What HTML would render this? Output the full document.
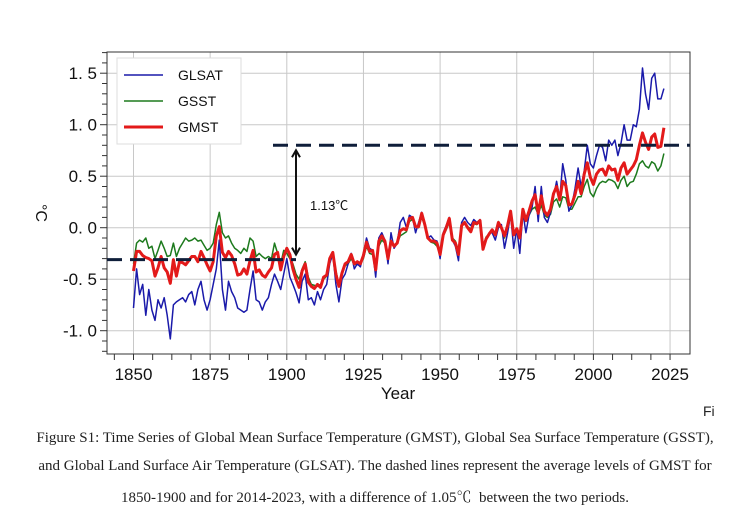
<!DOCTYPE html>
<html><head><meta charset="utf-8"><style>
body{margin:0;background:#fff;width:750px;height:530px;overflow:hidden;font-family:"Liberation Sans",sans-serif}
.cap{position:absolute;left:0;width:750px;text-align:center;font-family:"Liberation Serif","Noto Serif CJK SC",serif;font-size:15px;color:#222;white-space:nowrap}
</style></head><body>
<svg id="chart" width="750" height="420" style="position:absolute;left:0;top:0" font-family="Liberation Sans, sans-serif"></svg>
<div class="cap" style="left:703px;width:20px;top:403px;text-align:left;font-family:'Liberation Sans',sans-serif;font-size:14px">Fi</div>
<div class="cap" style="top:430px">Figure S1: Time Series of Global Mean Surface Temperature (GMST), Global Sea Surface Temperature (GSST),</div>
<div class="cap" style="top:458px">and Global Land Surface Air Temperature (GLSAT). The dashed lines represent the average levels of GMST for</div>
<div class="cap" style="top:486px">1850-1900 and for 2014-2023, with a difference of 1.05℃&nbsp; between the two periods.</div>
<script>
const startYear = 1850;
const xTicks = [1850,1875,1900,1925,1950,1975,2000,2025];
const yTicks = [1.5,1.0,0.5,0.0,-0.5,-1.0];
const yTickLabels = ["1. 5","1. 0","0. 5","0. 0","-0. 5","-1. 0"];
const gmst = [-0.42,-0.23,-0.23,-0.27,-0.29,-0.30,-0.32,-0.47,-0.39,-0.28,
-0.39,-0.43,-0.54,-0.31,-0.47,-0.33,-0.34,-0.36,-0.32,-0.28,
-0.28,-0.33,-0.23,-0.29,-0.36,-0.42,-0.33,-0.08,0.01,-0.24,
-0.29,-0.23,-0.27,-0.35,-0.46,-0.45,-0.40,-0.45,-0.32,-0.22,
-0.43,-0.41,-0.46,-0.48,-0.43,-0.39,-0.26,-0.24,-0.41,-0.28,
-0.20,-0.26,-0.40,-0.50,-0.58,-0.42,-0.35,-0.53,-0.57,-0.59,
-0.55,-0.58,-0.48,-0.46,-0.30,-0.24,-0.45,-0.57,-0.44,-0.35,
-0.33,-0.26,-0.35,-0.33,-0.35,-0.27,-0.14,-0.23,-0.22,-0.41,
-0.13,-0.08,-0.13,-0.30,-0.13,-0.18,-0.15,-0.03,-0.01,-0.02,
0.09,0.10,0.01,0.01,0.14,0.03,-0.10,-0.13,-0.13,-0.15,
-0.26,-0.07,0.00,0.09,-0.12,-0.15,-0.26,0.02,0.05,0.00,
-0.04,0.05,0.04,0.07,-0.21,-0.11,-0.06,-0.02,-0.07,0.05,
0.00,-0.08,0.02,0.16,-0.07,-0.01,-0.10,0.18,0.07,0.16,
0.26,0.32,0.14,0.31,0.16,0.12,0.18,0.33,0.40,0.27,
0.45,0.41,0.22,0.23,0.32,0.45,0.33,0.52,0.63,0.49,
0.42,0.52,0.56,0.57,0.51,0.60,0.56,0.57,0.46,0.58,
0.63,0.52,0.56,0.60,0.66,0.80,0.92,0.83,0.76,0.88,
0.91,0.78,0.79,0.97];
const gsst = [-0.35,-0.15,-0.12,-0.14,-0.10,-0.20,-0.18,-0.30,-0.22,-0.13,
-0.20,-0.28,-0.27,-0.15,-0.28,-0.20,-0.15,-0.10,-0.13,-0.12,
-0.10,-0.13,-0.12,-0.17,-0.22,-0.20,-0.15,0.03,0.15,-0.05,
-0.10,-0.08,-0.15,-0.20,-0.22,-0.25,-0.20,-0.23,-0.10,-0.13,
-0.28,-0.25,-0.28,-0.30,-0.28,-0.30,-0.15,-0.25,-0.35,-0.22,
-0.25,-0.30,-0.35,-0.45,-0.50,-0.40,-0.33,-0.48,-0.55,-0.56,
-0.57,-0.55,-0.50,-0.47,-0.33,-0.27,-0.42,-0.55,-0.45,-0.37,
-0.35,-0.30,-0.36,-0.35,-0.35,-0.30,-0.18,-0.25,-0.26,-0.35,
-0.18,-0.12,-0.15,-0.27,-0.15,-0.18,-0.15,-0.08,-0.06,-0.04,
0.06,0.08,0.02,0.00,0.10,0.02,-0.08,-0.14,-0.15,-0.18,
-0.24,-0.08,-0.02,0.05,-0.10,-0.13,-0.22,0.03,0.06,0.01,
-0.01,0.04,0.03,0.06,-0.18,-0.09,-0.06,-0.03,-0.07,0.06,
0.00,-0.10,0.02,0.12,-0.05,-0.03,-0.08,0.14,0.06,0.12,
0.18,0.20,0.13,0.22,0.12,0.10,0.13,0.25,0.28,0.20,
0.30,0.29,0.18,0.18,0.24,0.30,0.30,0.40,0.47,0.34,
0.30,0.38,0.43,0.45,0.44,0.47,0.46,0.44,0.38,0.46,
0.50,0.40,0.44,0.45,0.52,0.62,0.65,0.60,0.58,0.64,
0.62,0.55,0.60,0.72];
const glsat = [-0.78,-0.40,-0.65,-0.55,-0.85,-0.60,-0.80,-0.90,-0.70,-0.78,
-0.68,-0.85,-1.08,-0.75,-0.72,-0.70,-0.68,-0.72,-0.65,-0.62,
-0.75,-0.60,-0.52,-0.70,-0.80,-0.70,-0.55,-0.40,-0.12,-0.60,
-0.80,-0.52,-0.62,-0.68,-0.78,-0.80,-0.82,-0.80,-0.60,-0.42,
-0.70,-0.72,-0.80,-0.72,-0.68,-0.55,-0.45,-0.52,-0.60,-0.45,
-0.30,-0.48,-0.55,-0.63,-0.73,-0.52,-0.45,-0.70,-0.68,-0.75,
-0.62,-0.70,-0.60,-0.55,-0.35,-0.25,-0.55,-0.72,-0.50,-0.45,
-0.35,-0.25,-0.40,-0.35,-0.38,-0.25,-0.10,-0.20,-0.22,-0.48,
-0.10,-0.05,-0.12,-0.35,-0.05,-0.20,-0.15,0.05,0.10,0.00,
0.12,0.10,-0.05,0.05,0.15,0.05,-0.10,-0.08,-0.12,-0.13,
-0.30,-0.05,0.02,0.10,-0.12,-0.18,-0.32,0.05,0.10,0.05,
0.02,0.08,0.05,0.08,-0.20,-0.12,-0.05,-0.05,-0.12,0.00,
0.03,-0.20,-0.05,0.13,-0.20,-0.01,-0.25,0.15,-0.05,0.12,
0.20,0.40,0.06,0.40,0.10,0.05,0.15,0.30,0.45,0.28,
0.62,0.46,0.16,0.22,0.38,0.58,0.40,0.55,0.80,0.62,
0.58,0.70,0.80,0.78,0.65,0.85,0.80,0.85,0.70,0.82,
1.00,0.85,0.85,1.00,0.98,1.15,1.55,1.30,1.15,1.45,
1.50,1.25,1.25,1.35];
const baseMean = -0.31, recentMean = 0.80;
const arrowLabel = "1.13℃";

const NS="http://www.w3.org/2000/svg";
const svg=document.getElementById('chart');
const L=107,R=690,T=52,B=354;
const X=yr=>133.5+(yr-1850)*3.066;
const Y=v=>227.7-v*103;
function mk(t,a,p){const e=document.createElementNS(NS,t);for(const k in a)e.setAttribute(k,a[k]);(p||svg).appendChild(e);return e;}
yTicks.forEach(v=>{const g=mk('line',{x1:L,x2:R,y1:Y(v),y2:Y(v),stroke:'#c8c8c8','stroke-width':1});

});
xTicks.forEach(v=>{const g=mk('line',{x1:X(v),x2:X(v),y1:T,y2:B,stroke:'#c8c8c8','stroke-width':1});

});
const frame=mk('rect',{x:L,y:T,width:R-L,height:B-T,fill:'none',stroke:'#333','stroke-width':1});


for(let v=-1.2;v<=1.71;v+=0.1){const maj=Math.abs(Math.round(v*2)-v*2)<0.01;
const t=mk('line',{x1:L-(maj?7:5),x2:L,y1:Y(v),y2:Y(v),stroke:'#333','stroke-width':1});

}
yTicks.forEach((v,i)=>{const t=mk('text',{x:97,y:Y(v)+6,'text-anchor':'end','font-size':17,fill:'#111'});
t.textContent=yTickLabels[i];

});
for(let yr=1843.75;yr<=2031;yr+=6.25){if(X(yr)<L||X(yr)>R+1)continue;
const t=mk('line',{x1:X(yr),x2:X(yr),y1:B,y2:B+6,stroke:'#333','stroke-width':1});

}
xTicks.forEach(v=>{const t=mk('text',{x:X(v),y:380,'text-anchor':'middle','font-size':17,fill:'#111'});
t.textContent=v;

});
const xt=mk('text',{x:398,y:399,'text-anchor':'middle','font-size':17,fill:'#111'});xt.textContent='Year';


const yt=mk('text',{x:0,y:0,'text-anchor':'middle','font-size':16,fill:'#111',transform:'translate(36,213) rotate(90)'});yt.textContent='°C';


function series(arr,col,w,name){const d=arr.map((v,i)=>(i?'L':'M')+X(startYear+i).toFixed(1)+' '+Y(v).toFixed(1)).join(' ');
const p=mk('path',{d:d,fill:'none',stroke:col,'stroke-width':w,'stroke-linejoin':'round'});

}
series(gsst,'#1d7a1d',1.5,'gsst-line');
series(glsat,'#1a1aaa',1.5,'glsat-line');
series(gmst,'#e31a1a',3,'gmst-line');
const d1=mk('line',{x1:L,x2:X(1903),y1:Y(baseMean),y2:Y(baseMean),stroke:'#0f1e3a','stroke-width':3,'stroke-dasharray':'15 8'});


const d2=mk('line',{x1:273,x2:R,y1:Y(recentMean),y2:Y(recentMean),stroke:'#0f1e3a','stroke-width':3,'stroke-dasharray':'15 8'});


const ax=296;
const ar=mk('path',{d:`M${ax} ${Y(recentMean)+6} L${ax} ${Y(baseMean)-6} M${ax-4} ${Y(recentMean)+12} L${ax} ${Y(recentMean)+5} L${ax+4} ${Y(recentMean)+12} M${ax-4} ${Y(baseMean)-12} L${ax} ${Y(baseMean)-5} L${ax+4} ${Y(baseMean)-12}`,stroke:'#111','stroke-width':2,fill:'none'});


const al=mk('text',{x:310,y:210,'font-size':13,fill:'#111','font-family':'Liberation Sans, Noto Sans CJK SC, sans-serif'});al.textContent=arrowLabel;


const lg=mk('rect',{x:117,y:58,width:124,height:86,fill:'#fff',stroke:'#ddd'});


[['GLSAT','#1a1aaa',1.5,75],['GSST','#1d7a1d',1.5,101],['GMST','#e31a1a',3,127]].forEach(e=>{
const l=mk('line',{x1:124,x2:163,y1:e[3],y2:e[3],stroke:e[1],'stroke-width':e[2]});


const t=mk('text',{x:178,y:e[3]+5,'font-size':14,fill:'#111'});t.textContent=e[0];

});
</script>
</body></html>
